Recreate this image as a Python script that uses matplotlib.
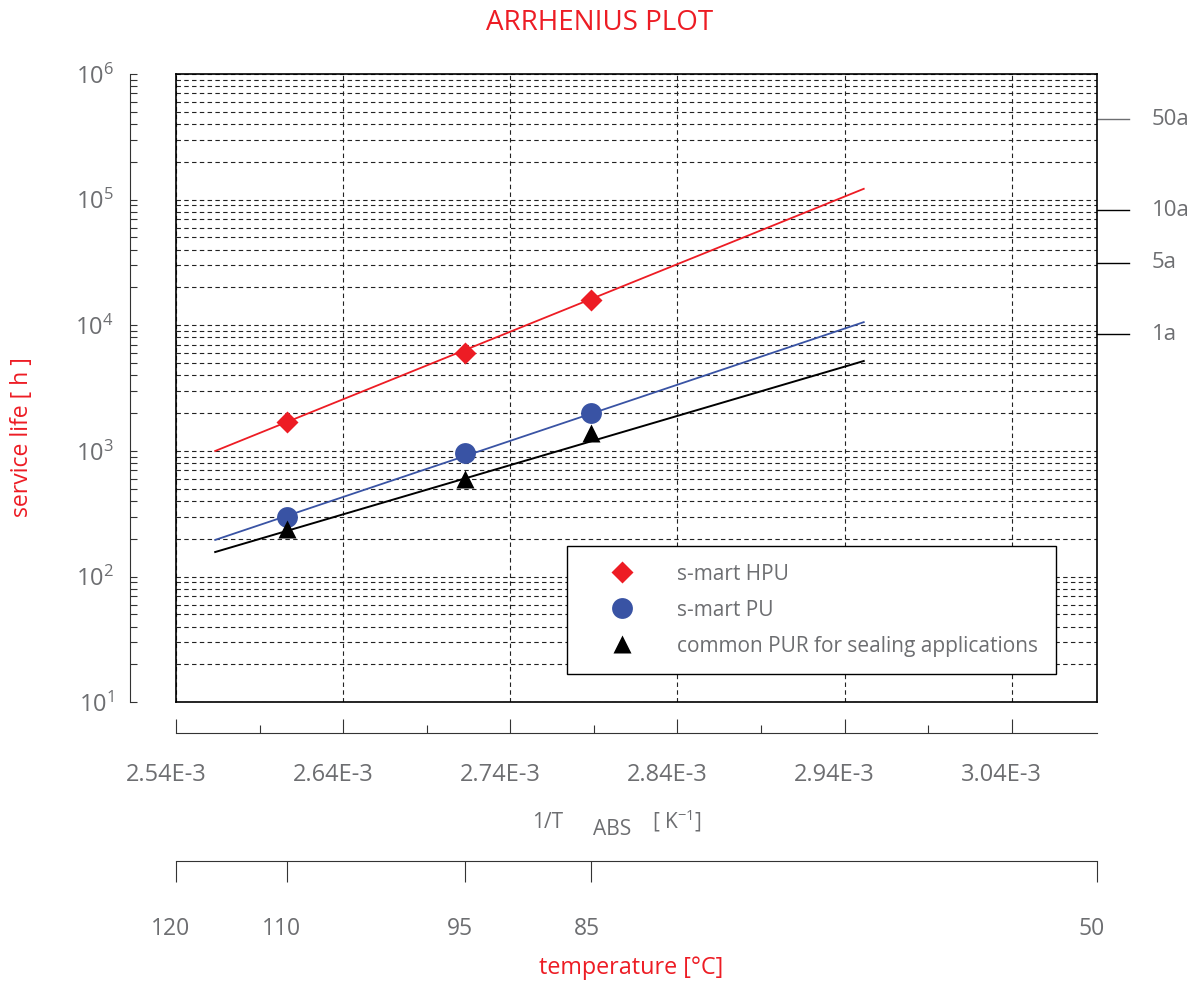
import numpy as np
import matplotlib
matplotlib.use('Agg')
import matplotlib.pyplot as plt
import matplotlib.transforms as mtransforms
from matplotlib.ticker import LogLocator, FixedLocator, NullFormatter

plt.rcParams['font.family'] = ['Open Sans', 'DejaVu Sans']
plt.rcParams['mathtext.fontset'] = 'custom'
plt.rcParams['mathtext.rm'] = 'Open Sans'
plt.rcParams['mathtext.it'] = 'Open Sans'
plt.rcParams['mathtext.default'] = 'regular'

grey = '#6d6e71'
red = '#ed1c24'
blue = '#3953a4'

# measured points (temperature in °C, service life in h)
temps_c = [110, 95, 85]
hpu_hours = [1700, 6000, 16000]
pu_hours = [300, 960, 2000]
pur_hours = [240, 600, 1380]

# fitted lines, end points
fit_x = [2.567e-3, 2.955e-3]
hpu_fit = [1000, 1.22e5]
pu_fit = [196, 1.06e4]
pur_fit = [157, 5.2e3]

axis_temps = [120, 110, 95, 85, 50]
xtick_labels = ['2.54E-3', '2.64E-3', '2.74E-3', '2.84E-3', '2.94E-3', '3.04E-3']

service_labels = ['50a', '10a', '5a', '1a']
service_hours = [4.38e5, 8.2e4, 3.15e4, 8.5e3]


def inv_t(t):
    return 1.0 / (t + 273.15)


x0, x1 = inv_t(120), inv_t(50)
xticks = x0 + np.arange(6) * 1e-4
xminor = x0 + 0.5e-4 + np.arange(5) * 1e-4
pts_x = [inv_t(t) for t in temps_c]

fig = plt.figure(figsize=(11.99, 9.85), dpi=100)
pos = [176 / 1199, 1 - 702.3 / 985, 921 / 1199, 628.3 / 985]

# main box with grid
ax = fig.add_axes(pos)
ax.set_yscale('log')
ax.set_xlim(x0, x1)
ax.set_ylim(10, 1e6)
ax.xaxis.set_major_locator(FixedLocator(xticks))
ax.yaxis.set_major_locator(LogLocator(10, numticks=20))
ax.yaxis.set_minor_locator(LogLocator(10, subs=np.arange(2, 10), numticks=20))
ax.yaxis.set_minor_formatter(NullFormatter())
ax.tick_params(which='both', length=0, labelbottom=False, labelleft=False)
dash = (0, (4, 3))
ax.grid(axis='x', which='major', color='#222222', lw=0.8, ls=dash)
ax.grid(axis='y', which='both', color='#222222', lw=0.8, ls=dash)
for s in ax.spines.values():
    s.set_linewidth(1.2)
    s.set_color('black')

ax.plot(fit_x, hpu_fit, color=red, lw=1.3, zorder=3)
ax.plot(fit_x, pu_fit, color=blue, lw=1.3, zorder=3)
ax.plot(fit_x, pur_fit, color='black', lw=1.4, zorder=3)
ax.plot(pts_x, hpu_hours, 'D', color=red, ms=11, mec='none', ls='none',
        label='s-mart HPU', zorder=4)
ax.plot(pts_x, pu_hours, 'o', color=blue, ms=15, mec='none', ls='none',
        label='s-mart PU', zorder=4)
ax.plot(pts_x, pur_hours, '^', color='black', ms=12.5, mec='none', ls='none',
        label='common PUR for sealing applications', zorder=4)

leg = ax.legend(loc='upper left', bbox_to_anchor=((567 - 176) / 921, (702.3 - 546) / 628.3),
                borderaxespad=0, fontsize=15, frameon=True, fancybox=False,
                edgecolor='black', framealpha=1, numpoints=1, handlelength=3.6,
                handletextpad=0.85, borderpad=0.85, labelspacing=0.72,
                labelcolor=grey)
leg.get_frame().set_linewidth(1.0)
leg.set_zorder(10)

# service life in years on the right
for lab, h in zip(service_labels, service_hours):
    c = grey if lab == '50a' else 'black'
    ax.plot([1.0, 1 + 32 / 921], [h, h], color=c, lw=1.0,
            transform=ax.get_yaxis_transform(), clip_on=False)
    ax.text(1 + 55 / 921, h, lab, transform=ax.get_yaxis_transform(),
            ha='left', va='center', fontsize=16, color=grey)

# detached left axis and 1/T axis
axl = fig.add_axes(pos)
axl.patch.set_visible(False)
axl.set_yscale('log')
axl.set_xlim(x0, x1)
axl.set_ylim(10, 1e6)
for k in ['top', 'right']:
    axl.spines[k].set_visible(False)
axl.spines['left'].set_position(('outward', 33))
axl.spines['bottom'].set_position(('outward', 22))
for k in ['left', 'bottom']:
    axl.spines[k].set_color('#333333')
    axl.spines[k].set_linewidth(0.8)
axl.set_yticks([10.0 ** k for k in range(1, 7)],
               [r'$10^{%d}$' % k for k in range(1, 7)])
axl.yaxis.set_minor_locator(LogLocator(10, subs=np.arange(2, 10), numticks=20))
axl.yaxis.set_minor_formatter(NullFormatter())
axl.tick_params(axis='y', which='both', direction='in', length=5, width=0.8,
                color='#333333', labelsize=17, labelcolor=grey, pad=12)
axl.set_xticks(xticks, xtick_labels)
axl.xaxis.set_minor_locator(FixedLocator(xminor))
axl.tick_params(axis='x', which='major', direction='in', length=10, width=0.8,
                color='#333333', labelsize=17, labelcolor=grey, pad=22)
axl.tick_params(axis='x', which='minor', direction='in', length=5.8, width=0.8,
                color='#333333')
shift = mtransforms.ScaledTranslation(-10 / 100, 0, fig.dpi_scale_trans)
for lab in axl.get_xticklabels():
    lab.set_transform(lab.get_transform() + shift)

# temperature axis
axt = fig.add_axes(pos)
axt.patch.set_visible(False)
axt.set_xlim(x0, x1)
axt.set_yticks([])
for k in ['top', 'right', 'left']:
    axt.spines[k].set_visible(False)
axt.spines['bottom'].set_position(('outward', 114.3))
axt.spines['bottom'].set_color('#333333')
axt.spines['bottom'].set_linewidth(0.8)
axt.set_xticks([inv_t(t) for t in axis_temps], [str(t) for t in axis_temps])
axt.tick_params(axis='x', direction='out', length=15, width=0.8, color='#333333',
                labelsize=16.5, labelcolor=grey, pad=25)
tshift = mtransforms.ScaledTranslation(-5 / 100, 0, fig.dpi_scale_trans)
for lab in axt.get_xticklabels():
    lab.set_transform(lab.get_transform() + tshift)

# texts
fig.text(600 / 1199, 1 - 23.5 / 985, 'ARRHENIUS PLOT', ha='center', va='center',
         fontsize=20, color=red)
fig.text(22 / 1199, 1 - 437 / 985, 'service life [ h ]', rotation=90,
         ha='center', va='center', fontsize=16.6, color=red)
fig.text(532 / 1199, 1 - 828 / 985, '1/T', ha='left', va='baseline',
         fontsize=15, color=grey)
fig.text(593 / 1199, 1 - 835 / 985, 'ABS', ha='left', va='baseline',
         fontsize=15, color=grey)
fig.text(652 / 1199, 1 - 829 / 985, r'[ K$^{-1}$]', ha='left', va='baseline',
         fontsize=15, color=grey)
fig.text(631 / 1199, 1 - 968 / 985, 'temperature [°C]', ha='center', va='center',
         fontsize=16.8, color=red)

fig.savefig('out.png', dpi=100)
